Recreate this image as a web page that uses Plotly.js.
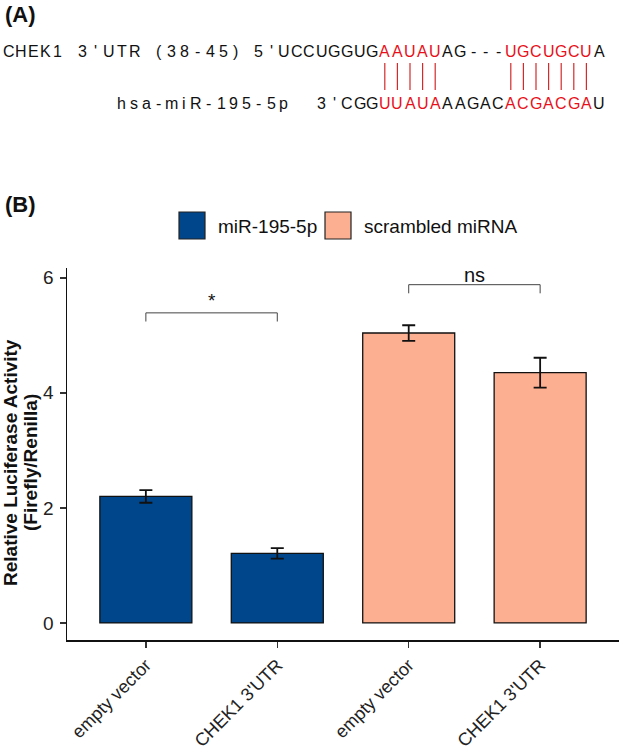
<!DOCTYPE html>
<html>
<head>
<meta charset="utf-8">
<script src="https://cdn.plot.ly/plotly-3.0.1.min.js"></script>
<style>html,body{margin:0;padding:0;background:#fff;}</style>
</head>
<body>
<div id="chart" style="width:622px;height:747px;"></div>
<script>
// ---- Panel B: luciferase reporter assay ----
const xPositions = [1, 2, 3, 4];
const tickLabels = ["empty vector", "CHEK1 3'UTR", "empty vector", "CHEK1 3'UTR"];
const seriesNames = ["miR-195-5p", "scrambled miRNA"];
const seriesColors = ["#00468B", "#FDAF91"];
const mirX = [1, 2];
const mirValues = [2.20, 1.21];
const mirErrors = [0.11, 0.09];
const scrX = [3, 4];
const scrValues = [5.04, 4.35];
const scrErrors = [0.135, 0.26];
const comparisons = [[1, 2], [3, 4]];
const compLabels = ["*", "ns"];
const compHeights = [5.39, 5.88];
const yTitleLines = ["Relative Luciferase Activity", "(Firefly/Renilla)"];

// ---- Panel A: seed-region alignment ----
const utrLabelWords = ["CHEK1", "3'UTR", "(38-45)"];
const utrPrefix = "5'";
const utrSeq = "UCCUGGUGAAUAUAG---UGCUGCUA";
const mirLabel = "hsa-miR-195-5p";
const mirPrefix = "3'";
const mirSeq = "CGGUUAUAAAGACACGACGAU";
const utrPaired = [8, 9, 10, 11, 12, 18, 19, 20, 21, 22, 23, 24];
const mirPaired = [3, 4, 5, 6, 7, 13, 14, 15, 16, 17, 18, 19];

// plot-area geometry (pixels) and helpers to place page-level items
const L = 67, R = 619, T = 268, B = 640;
const px = x => (x - L) / (R - L);
const py = y => (B - y) / (B - T);

const FONT = "Liberation Sans, Arial, Helvetica, sans-serif";
const RED = "#e8101a";
const INK = "#111111";

const annotations = [];
const shapes = [];

function addChar(ch, cx, cy, color, size) {
  annotations.push({
    xref: "paper", yref: "paper", x: px(cx), y: py(cy),
    text: ch, showarrow: false, xanchor: "center", yanchor: "middle",
    font: {family: FONT, size: size || 16, color: color || INK}
  });
}
function addRun(str, start, pitch, cy, colorFn) {
  for (let i = 0; i < str.length; i++) {
    addChar(str[i], start + i * pitch, cy, colorFn ? colorFn(i) : INK);
  }
}

// panel letters
annotations.push({xref: "paper", yref: "paper", x: px(3), y: py(15), text: "<b>(A)</b>",
  showarrow: false, xanchor: "left", yanchor: "middle", font: {family: FONT, size: 22, color: INK}});
annotations.push({xref: "paper", yref: "paper", x: px(3), y: py(205), text: "<b>(B)</b>",
  showarrow: false, xanchor: "left", yanchor: "middle", font: {family: FONT, size: 22, color: INK}});

// alignment rows
const ROW1 = 51, ROW2 = 104, PITCH = 12.6;
const utrStart = 284, mirStart = 347;
addRun(utrLabelWords[0], 9, 12, ROW1);
addRun(utrLabelWords[1], 82.8, 13, ROW1);
addRun(utrLabelWords[2], 159, 12.8, ROW1);
addRun(utrPrefix, utrStart - 2 * PITCH, PITCH, ROW1);
addRun(utrSeq, utrStart, PITCH, ROW1, i => utrPaired.includes(i) ? RED : INK);

addRun(mirLabel, 121, 12.5, ROW2);
addRun(mirPrefix, mirStart - 2 * PITCH, PITCH, ROW2);
addRun(mirSeq, mirStart, PITCH, ROW2, i => mirPaired.includes(i) ? RED : INK);

// base-pairing ticks
utrPaired.forEach(i => {
  const xp = px(utrStart + i * PITCH);
  shapes.push({type: "line", xref: "paper", yref: "paper", x0: xp, x1: xp,
    y0: py(63), y1: py(90), line: {color: "#d42a2a", width: 1.2}});
});

// legend
const legendItems = [{sq: 179, tx: 216}, {sq: 325, tx: 362}];
legendItems.forEach((it, k) => {
  shapes.push({type: "rect", xref: "paper", yref: "paper",
    x0: px(it.sq), x1: px(it.sq + 26), y0: py(239), y1: py(212),
    fillcolor: seriesColors[k], line: {color: "#222", width: 1.2}});
  annotations.push({xref: "paper", yref: "paper", x: px(it.tx), y: py(226),
    text: seriesNames[k], showarrow: false, xanchor: "left", yanchor: "middle",
    font: {family: FONT, size: 19, color: INK}});
});

// y-axis title (two bold lines, rotated)
[10, 30].forEach((cx, k) => {
  annotations.push({xref: "paper", yref: "paper", x: px(cx), y: py(463),
    text: "<b>" + yTitleLines[k] + "</b>", textangle: -90, showarrow: false,
    xanchor: "center", yanchor: "middle", font: {family: FONT, size: 19, color: INK}});
});

// significance brackets
comparisons.forEach((c, k) => {
  const h = compHeights[k], drop = 0.15;
  const ln = {color: "#444", width: 1};
  shapes.push({type: "line", xref: "x", yref: "y", x0: c[0], x1: c[1], y0: h, y1: h, line: ln});
  shapes.push({type: "line", xref: "x", yref: "y", x0: c[0], x1: c[0], y0: h, y1: h - drop, line: ln});
  shapes.push({type: "line", xref: "x", yref: "y", x0: c[1], x1: c[1], y0: h, y1: h - drop, line: ln});
  annotations.push({xref: "x", yref: "y", x: (c[0] + c[1]) / 2, y: h,
    text: compLabels[k], showarrow: false, xanchor: "center", yanchor: "bottom",
    yshift: compLabels[k] === "*" ? 0 : -3,
    font: {family: FONT, size: compLabels[k] === "*" ? 19 : 20, color: INK}});
});

const barLine = {color: "#111", width: 1.3};
const errStyle = (arr) => ({type: "data", array: arr, visible: true, color: "#111", thickness: 1.8, width: 6.5});

const traces = [
  {type: "bar", x: mirX, y: mirValues, name: seriesNames[0], width: 0.7,
   marker: {color: seriesColors[0], line: barLine}, error_y: errStyle(mirErrors), showlegend: false},
  {type: "bar", x: scrX, y: scrValues, name: seriesNames[1], width: 0.7,
   marker: {color: seriesColors[1], line: barLine}, error_y: errStyle(scrErrors), showlegend: false}
];

const layout = {
  width: 622, height: 747,
  margin: {l: L, r: 622 - R, t: T, b: 747 - B, pad: 0},
  paper_bgcolor: "#fff", plot_bgcolor: "#fff",
  showlegend: false,
  barmode: "overlay",
  font: {family: FONT, color: INK},
  xaxis: {
    range: [0.4, 4.6], tickmode: "array", tickvals: xPositions, ticktext: tickLabels,
    tickangle: -45, tickfont: {family: FONT, size: 18, color: "#222"},
    showgrid: false, zeroline: false, showline: true, linecolor: "#111", linewidth: 1.5,
    ticks: "outside", ticklen: 6, tickwidth: 1.5, tickcolor: "#333", fixedrange: true
  },
  yaxis: {
    range: [-0.296, 6.17], tickvals: [0, 2, 4, 6], ticktext: ["0", "2", "4", "6"],
    tickfont: {family: FONT, size: 19, color: "#222"}, ticklabelstandoff: 2,
    showgrid: false, zeroline: false, showline: true, linecolor: "#111", linewidth: 1.5,
    ticks: "outside", ticklen: 6, tickwidth: 1.5, tickcolor: "#333",
    fixedrange: true
  },
  shapes: shapes,
  annotations: annotations
};

Plotly.newPlot("chart", traces, layout, {displayModeBar: false, staticPlot: true});
</script>
</body>
</html>
